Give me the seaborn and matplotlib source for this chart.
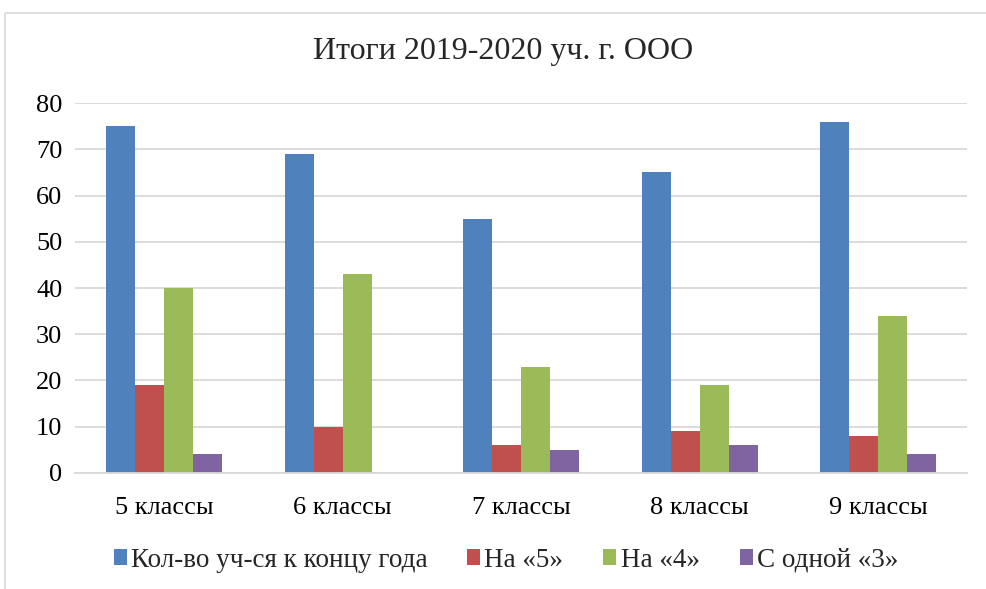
import matplotlib
matplotlib.use('Agg')
import matplotlib.pyplot as plt
from matplotlib.patches import Rectangle
import pandas as pd
import seaborn as sns

CLASSES = ['5 классы', '6 классы', '7 классы', '8 классы', '9 классы']
SERIES = ['Кол-во уч-ся к концу года', 'На «5»', 'На «4»', 'С одной «3»']
TOTAL = [75, 69, 55, 65, 76]
FIVES = [19, 10, 6, 9, 8]
FOURS = [40, 43, 23, 19, 34]
ONE_THREE = [4, 0, 5, 6, 4]
COLORS = ['#4F81BD', '#C0504D', '#9BBB59', '#8064A2']

rows = []
for name, vals in zip(SERIES, [TOTAL, FIVES, FOURS, ONE_THREE]):
    for cls, v in zip(CLASSES, vals):
        rows.append({'class': cls, 'series': name, 'value': v})
df = pd.DataFrame(rows)

sns.set_style('white')
plt.rcParams['font.family'] = ['Liberation Serif', 'DejaVu Serif']

fig = plt.figure(figsize=(9.86, 5.89), dpi=100)
ax = fig.add_axes([0.076, 0.197, 0.905, 0.628])

sns.barplot(data=df, x='class', y='value', hue='series', hue_order=SERIES,
            order=CLASSES, palette=COLORS, width=0.65, gap=0,
            saturation=1, linewidth=0, ax=ax)

ax.set_ylim(0, 80)
ax.set_yticks(range(0, 81, 10))
ax.yaxis.grid(True, color='#D9D9D9', linewidth=1.3)
ax.set_axisbelow(True)
for s in ['top', 'right', 'left']:
    ax.spines[s].set_visible(False)
ax.spines['bottom'].set_color('#D9D9D9')
ax.spines['bottom'].set_linewidth(1.3)
ax.tick_params(axis='both', length=0, labelsize=19, colors='black')
ax.tick_params(axis='x', pad=17)
ax.tick_params(axis='y', pad=9)
ax.set_xlabel('')
ax.set_ylabel('')

handles, labels = ax.get_legend_handles_labels()
ax.legend_.remove()
fig.legend(handles, labels, loc='center', bbox_to_anchor=(0.513, 0.049),
           ncol=4, frameon=False, fontsize=19.5, handlelength=0.48,
           handleheight=0.48, handletextpad=0.15, columnspacing=1.48)

fig.text(0.51, 0.913, 'Итоги 2019-2020 уч. г. ООО', ha='center', va='center',
         fontsize=23)

fig.patches.append(Rectangle((5 / 986, -0.05), 1.2, 1 - 13 / 589 + 0.05,
                             transform=fig.transFigure, fill=False,
                             edgecolor='#D9D9D9', linewidth=1.2))

fig.savefig('out.png', dpi=100)
